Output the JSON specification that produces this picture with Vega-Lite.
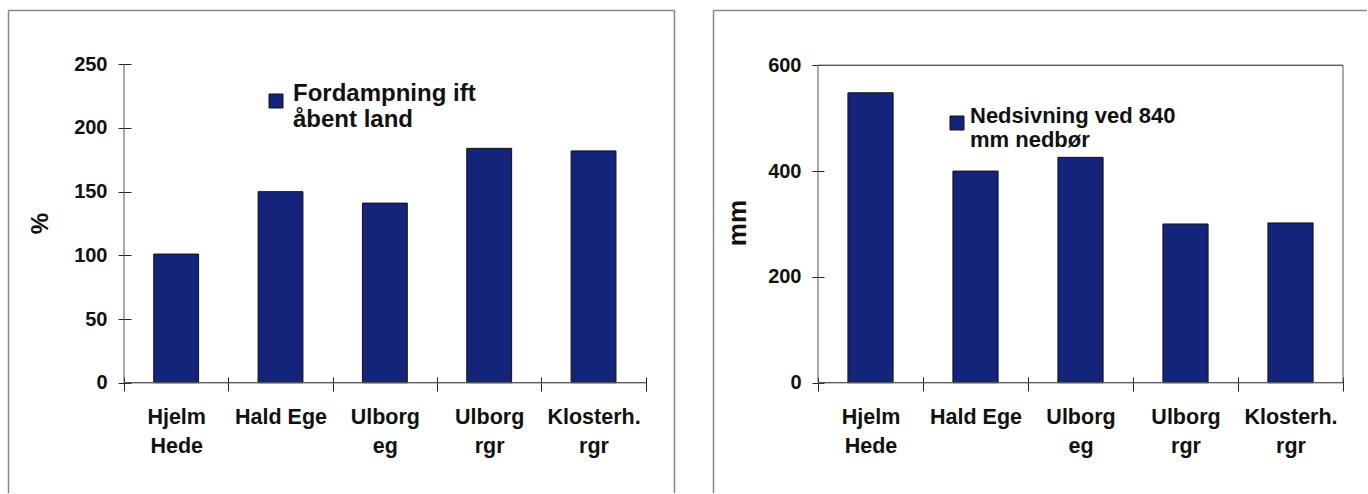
{
  "$schema": "https://vega.github.io/schema/vega-lite/v6.json",
  "padding": {"left": 8, "top": 10, "right": 0, "bottom": 0},
  "bounds": "flush",
  "spacing": 39,
  "background": "white",
  "config": {
    "view": {"stroke": null},
    "font": "Liberation Sans",
    "axis": {
      "grid": false,
      "labelFont": "Liberation Sans",
      "labelFontWeight": "bold",
      "labelColor": "#111111",
      "titleFont": "Liberation Sans",
      "titleFontWeight": "bold",
      "titleColor": "#111111",
      "tickColor": "#222222",
      "domainColor": "#888888"
    }
  },
  "datasets": {
    "fordampning": [
      {"site": "Hjelm|Hede", "pct": 101, "serie1": "Fordampning ift|åbent land"},
      {"site": "Hald Ege", "pct": 150, "serie1": "Fordampning ift|åbent land"},
      {"site": "Ulborg|eg", "pct": 141, "serie1": "Fordampning ift|åbent land"},
      {"site": "Ulborg|rgr", "pct": 184, "serie1": "Fordampning ift|åbent land"},
      {"site": "Klosterh.|rgr", "pct": 182, "serie1": "Fordampning ift|åbent land"}
    ],
    "nedsivning": [
      {"site": "Hjelm|Hede", "mm": 548, "serie2": "Nedsivning ved 840|mm nedbør"},
      {"site": "Hald Ege", "mm": 400, "serie2": "Nedsivning ved 840|mm nedbør"},
      {"site": "Ulborg|eg", "mm": 426, "serie2": "Nedsivning ved 840|mm nedbør"},
      {"site": "Ulborg|rgr", "mm": 300, "serie2": "Nedsivning ved 840|mm nedbør"},
      {"site": "Klosterh.|rgr", "mm": 302, "serie2": "Nedsivning ved 840|mm nedbør"}
    ]
  },
  "resolve": {"scale": {"color": "independent"}},
  "hconcat": [
    {
      "width": 666,
      "height": 483,
      "data": {"name": "fordampning"},
      "resolve": {"axis": {"x": "independent", "y": "independent"}},
      "layer": [
        {
          "mark": {"type": "bar", "width": {"band": 0.43}, "stroke": "#111111", "strokeWidth": 1},
          "encoding": {
            "x": {
              "field": "site", "type": "nominal", "sort": null,
              "scale": {"type": "band", "domain": ["Hjelm|Hede", "Hald Ege", "Ulborg|eg", "Ulborg|rgr", "Klosterh.|rgr"], "paddingInner": 0, "paddingOuter": 0.6915, "align": 0.8039},
              "axis": {"orient": "bottom", "offset": -116, "title": null, "domain": false, "tickBand": "extent", "tickSize": 14, "tickWidth": 1, "labelExpr": "split(datum.label, '|')", "labelFontSize": 21.5, "labelLineHeight": 29, "labelBaseline": "top", "labelPadding": 15, "labelAngle": 0, "labelLimit": 0}
            },
            "y": {
              "field": "pct", "type": "quantitative",
              "scale": {"domain": [-86.6, 292.63], "nice": false, "zero": false},
              "axis": {"orient": "left", "offset": -123, "values": [0, 50, 100, 150, 200, 250], "domain": false, "tickSize": 13, "labelPadding": 11, "labelFontSize": 20, "title": "%", "titleAngle": -90, "titleFontSize": 24, "titleX": -91, "titleY": 213, "titleAlign": "center", "titleBaseline": "middle"}
            },
            "y2": {"datum": 0},
            "color": {
              "field": "serie1", "type": "nominal",
              "scale": {"range": ["#15247b"]},
              "legend": {"orient": "none", "legendX": 256, "legendY": 79, "title": null, "symbolType": "square", "symbolSize": 196, "symbolStrokeColor": "#111111", "symbolStrokeWidth": 1, "labelFontSize": 24, "labelFont": "Liberation Sans", "labelFontWeight": "bold", "labelColor": "#111111", "labelLimit": 0, "labelOffset": 5, "labelExpr": "split(datum.label, '|')", "labelBaseline": "alphabetic", "labelLineHeight": 21, "padding": 0}
            }
          }
        },
        {
          "mark": {"type": "bar", "width": {"band": 1}, "filled": false, "stroke": "#555555", "strokeWidth": 1},
          "encoding": {
            "x": {"field": "site", "type": "nominal", "sort": null,
              "axis": {"orient": "top", "title": null, "labels": false, "ticks": false, "domain": true, "domainColor": "#888888", "domainWidth": 1.5}},
            "y": {"datum": 0, "type": "quantitative",
              "axis": {"orient": "left", "title": null, "labels": false, "ticks": false, "domain": true, "domainColor": "#888888", "domainWidth": 1.5}},
            "y2": {"datum": 0}
          }
        },
        {
          "transform": [{"filter": "datum.site === 'Hjelm|Hede'"}],
          "mark": {"type": "rule", "color": "#555555", "strokeWidth": 1},
          "encoding": {
            "x": {"field": "site", "type": "nominal", "sort": null, "bandPosition": 0, "axis": null},
            "y": {"datum": 0, "type": "quantitative",
              "axis": {"orient": "right", "title": null, "labels": false, "ticks": false, "domain": true, "domainColor": "#888888", "domainWidth": 1.5}},
            "y2": {"datum": 250}
          }
        }
      ]
    },
    {
      "width": 654,
      "height": 483,
      "data": {"name": "nedsivning"},
      "resolve": {"axis": {"x": "independent", "y": "independent"}},
      "layer": [
        {
          "mark": {"type": "bar", "width": {"band": 0.43}, "stroke": "#111111", "strokeWidth": 1},
          "encoding": {
            "x": {
              "field": "site", "type": "nominal", "sort": null,
              "scale": {"type": "band", "domain": ["Hjelm|Hede", "Hald Ege", "Ulborg|eg", "Ulborg|rgr", "Klosterh.|rgr"], "paddingInner": 0, "paddingOuter": 0.6143, "align": 0.814},
              "axis": {"orient": "bottom", "offset": -116, "title": null, "domain": false, "tickBand": "extent", "tickSize": 14, "tickWidth": 1, "labelExpr": "split(datum.label, '|')", "labelFontSize": 21.5, "labelLineHeight": 29, "labelBaseline": "top", "labelPadding": 15, "labelAngle": 0, "labelLimit": 0}
            },
            "y": {
              "field": "mm", "type": "quantitative",
              "scale": {"domain": [-208.5, 704.5], "nice": false, "zero": false},
              "axis": {"orient": "left", "offset": -111, "values": [0, 200, 400, 600], "domain": false, "tickSize": 12, "labelPadding": 11, "labelFontSize": 20, "title": "mm", "titleAngle": -90, "titleFontSize": 26, "titleX": -87, "titleY": 212.5, "titleAlign": "center", "titleBaseline": "middle"}
            },
            "y2": {"datum": 0},
            "color": {
              "field": "serie2", "type": "nominal",
              "scale": {"range": ["#15247b"]},
              "legend": {"orient": "none", "legendX": 233, "legendY": 102, "title": null, "symbolType": "square", "symbolSize": 196, "symbolStrokeColor": "#111111", "symbolStrokeWidth": 1, "labelFontSize": 22, "labelFont": "Liberation Sans", "labelFontWeight": "bold", "labelColor": "#111111", "labelLimit": 0, "labelOffset": 2, "labelExpr": "split(datum.label, '|')", "labelBaseline": "alphabetic", "labelLineHeight": 26, "padding": 0}
            }
          }
        },
        {
          "mark": {"type": "bar", "width": {"band": 1}, "filled": false, "stroke": "#555555", "strokeWidth": 1},
          "encoding": {
            "x": {"field": "site", "type": "nominal", "sort": null,
              "axis": {"orient": "top", "title": null, "labels": false, "ticks": false, "domain": true, "domainColor": "#888888", "domainWidth": 1.5}},
            "y": {"datum": 0, "type": "quantitative",
              "axis": {"orient": "left", "title": null, "labels": false, "ticks": false, "domain": true, "domainColor": "#888888", "domainWidth": 1.5}},
            "y2": {"datum": 0}
          }
        },
        {
          "mark": {"type": "bar", "width": {"band": 1}, "filled": false, "stroke": "#555555", "strokeWidth": 1},
          "encoding": {
            "x": {"field": "site", "type": "nominal", "sort": null, "axis": null},
            "y": {"datum": 600, "type": "quantitative", "axis": null},
            "y2": {"datum": 600}
          }
        },
        {
          "transform": [{"filter": "datum.site === 'Hjelm|Hede'"}],
          "mark": {"type": "rule", "color": "#555555", "strokeWidth": 1},
          "encoding": {
            "x": {"field": "site", "type": "nominal", "sort": null, "bandPosition": 0, "axis": null},
            "y": {"datum": 0, "type": "quantitative", "axis": null},
            "y2": {"datum": 600}
          }
        },
        {
          "transform": [{"filter": "datum.site === 'Klosterh.|rgr'"}],
          "mark": {"type": "rule", "color": "#555555", "strokeWidth": 1},
          "encoding": {
            "x": {"field": "site", "type": "nominal", "sort": null, "bandPosition": 1, "axis": null},
            "y": {"datum": 0, "type": "quantitative", "axis": null},
            "y2": {"datum": 600}
          }
        }
      ]
    }
  ]
}
